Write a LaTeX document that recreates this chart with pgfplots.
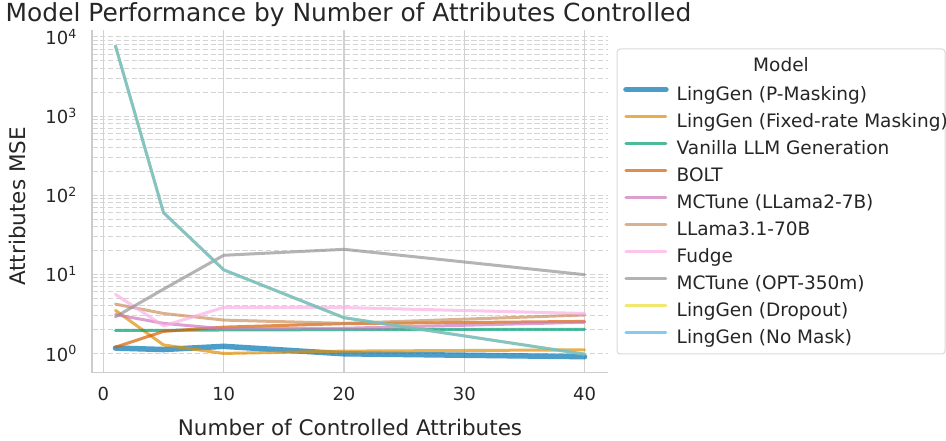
\documentclass[border=0pt]{standalone}
\usepackage{pgfplots}
\pgfplotsset{compat=1.18}
\usepackage{fontspec}
\setmainfont{DejaVu Sans}
\definecolor{cBlue}{HTML}{0173B2}
\definecolor{cOrange}{HTML}{DE8F05}
\definecolor{cGreen}{HTML}{029E73}
\definecolor{cVerm}{HTML}{D55E00}
\definecolor{cPink}{HTML}{CC78BC}
\definecolor{cTan}{HTML}{CA9161}
\definecolor{cLPink}{HTML}{FBAFE4}
\definecolor{cGray}{HTML}{949494}
\definecolor{cYellow}{HTML}{ECE133}
\definecolor{cLBlue}{HTML}{56B4E9}
\definecolor{txt}{HTML}{262626}
\newcommand\tickfont{\fontsize{18bp}{21bp}\selectfont}
\newcommand\legfont{\fontsize{18.5bp}{21bp}\selectfont}
\begin{document}
\begin{tikzpicture}
\useasboundingbox (0,0) rectangle (946bp,441bp);
\draw[black!15, line width=1bp, fill=white, rounded corners=3bp] (617bp,87bp) rectangle (945bp,392bp);
\node[font=\legfont, text=txt] at (781bp,376.3bp) {Model};
\node[font=\fontsize{24.9bp}{28bp}\selectfont, text=txt, anchor=base] at (348.5bp,419bp) {Model Performance by Number of Attributes Controlled};
\node[font=\fontsize{21.5bp}{25bp}\selectfont, text=txt] at (350bp,14bp) {Number of Controlled Attributes};
\node[font=\fontsize{21.5bp}{25bp}\selectfont, text=txt, rotate=90] at (17.5bp,234.5bp) {Attributes MSE};
\begin{axis}[
  at={(92bp,68.3bp)}, anchor=south west,
  scale only axis, width=516bp, height=342.3bp,
  xmin=-0.95, xmax=41.95,
  ymode=log, ymin=0.571, ymax=12100,
  xtick={0,10,20,30,40},
  ytick={1,10,100,1000,10000},
  yticklabels={10\textsuperscript{0},10\textsuperscript{1},10\textsuperscript{2},10\textsuperscript{3},10\textsuperscript{4}},
  /pgf/number format/assume math mode=true,
  ticklabel style={font=\tickfont, text=txt},
  xticklabel style={inner sep=0pt, yshift=-14bp, anchor=north},
  yticklabel style={inner sep=0pt, xshift=-15bp, anchor=east},
  major tick length=0pt, minor tick length=0pt,
  axis x line*=bottom, axis y line*=left,
  axis line style={-, draw=black!20, line width=1.6bp},
  xmajorgrids=true, ymajorgrids=true, yminorgrids=true,
  x grid style={draw=black!18, line width=1.3bp},
  y grid style={draw=black!17, line width=1bp, dash pattern=on 5.5bp off 2.4bp},
  minor y grid style={draw=black!17, line width=1bp, dash pattern=on 5.5bp off 2.4bp},
  every axis plot/.append style={line width=3bp, opacity=0.7, line cap=round, line join=round, mark=none},
  legend image code/.code={\draw[#1] (0bp,6.5bp) -- (40bp,6.5bp);},
  legend cell align=left,
  legend style={at={(1.0291,0.836)}, anchor=north west, draw=none, fill=none,
    inner sep=0pt, row sep=10bp, font=\legfont, text=txt,
    nodes={inner sep=0pt, text height=13bp, text depth=4bp},
    /tikz/every odd column/.style={column sep=8bp}},
]
\addplot[color=cBlue, line width=5.5bp] coordinates {(1,1.17) (5,1.12) (10,1.23) (20,0.99) (40,0.91)};
\addlegendentry{LingGen (P-Masking)}
\addplot[color=cOrange] coordinates {(1,3.5) (5,1.28) (10,1.0) (20,1.07) (40,1.11)};
\addlegendentry{LingGen (Fixed-rate Masking)}
\addplot[color=cGreen] coordinates {(1,1.95) (5,1.96) (10,1.98) (20,2.0) (40,2.02)};
\addlegendentry{Vanilla LLM Generation}
\addplot[color=cVerm] coordinates {(1,1.2) (5,1.9) (10,2.15) (20,2.38) (40,2.54)};
\addlegendentry{BOLT}
\addplot[color=cPink] coordinates {(1,3.1) (5,2.4) (10,2.05) (20,2.08) (40,2.48)};
\addlegendentry{MCTune (LLama2-7B)}
\addplot[color=cTan] coordinates {(1,4.2) (5,3.2) (10,2.64) (20,2.4) (40,3.06)};
\addlegendentry{LLama3.1-70B}
\addplot[color=cLPink] coordinates {(1,5.58) (5,2.23) (10,3.82) (20,3.8) (40,3.2)};
\addlegendentry{Fudge}
\addplot[color=cGray] coordinates {(1,2.9) (5,6.5) (10,17.4) (20,20.7) (40,9.9)};
\addlegendentry{MCTune (OPT-350m)}
\addplot[color=cYellow] coordinates {(1,7700) (5,60) (10,11.4) (20,2.83) (40,0.98)};
\addlegendentry{LingGen (Dropout)}
\addplot[color=cLBlue] coordinates {(1,7700) (5,60) (10,11.4) (20,2.83) (40,0.98)};
\addlegendentry{LingGen (No Mask)}
\end{axis}
\end{tikzpicture}
\end{document}
